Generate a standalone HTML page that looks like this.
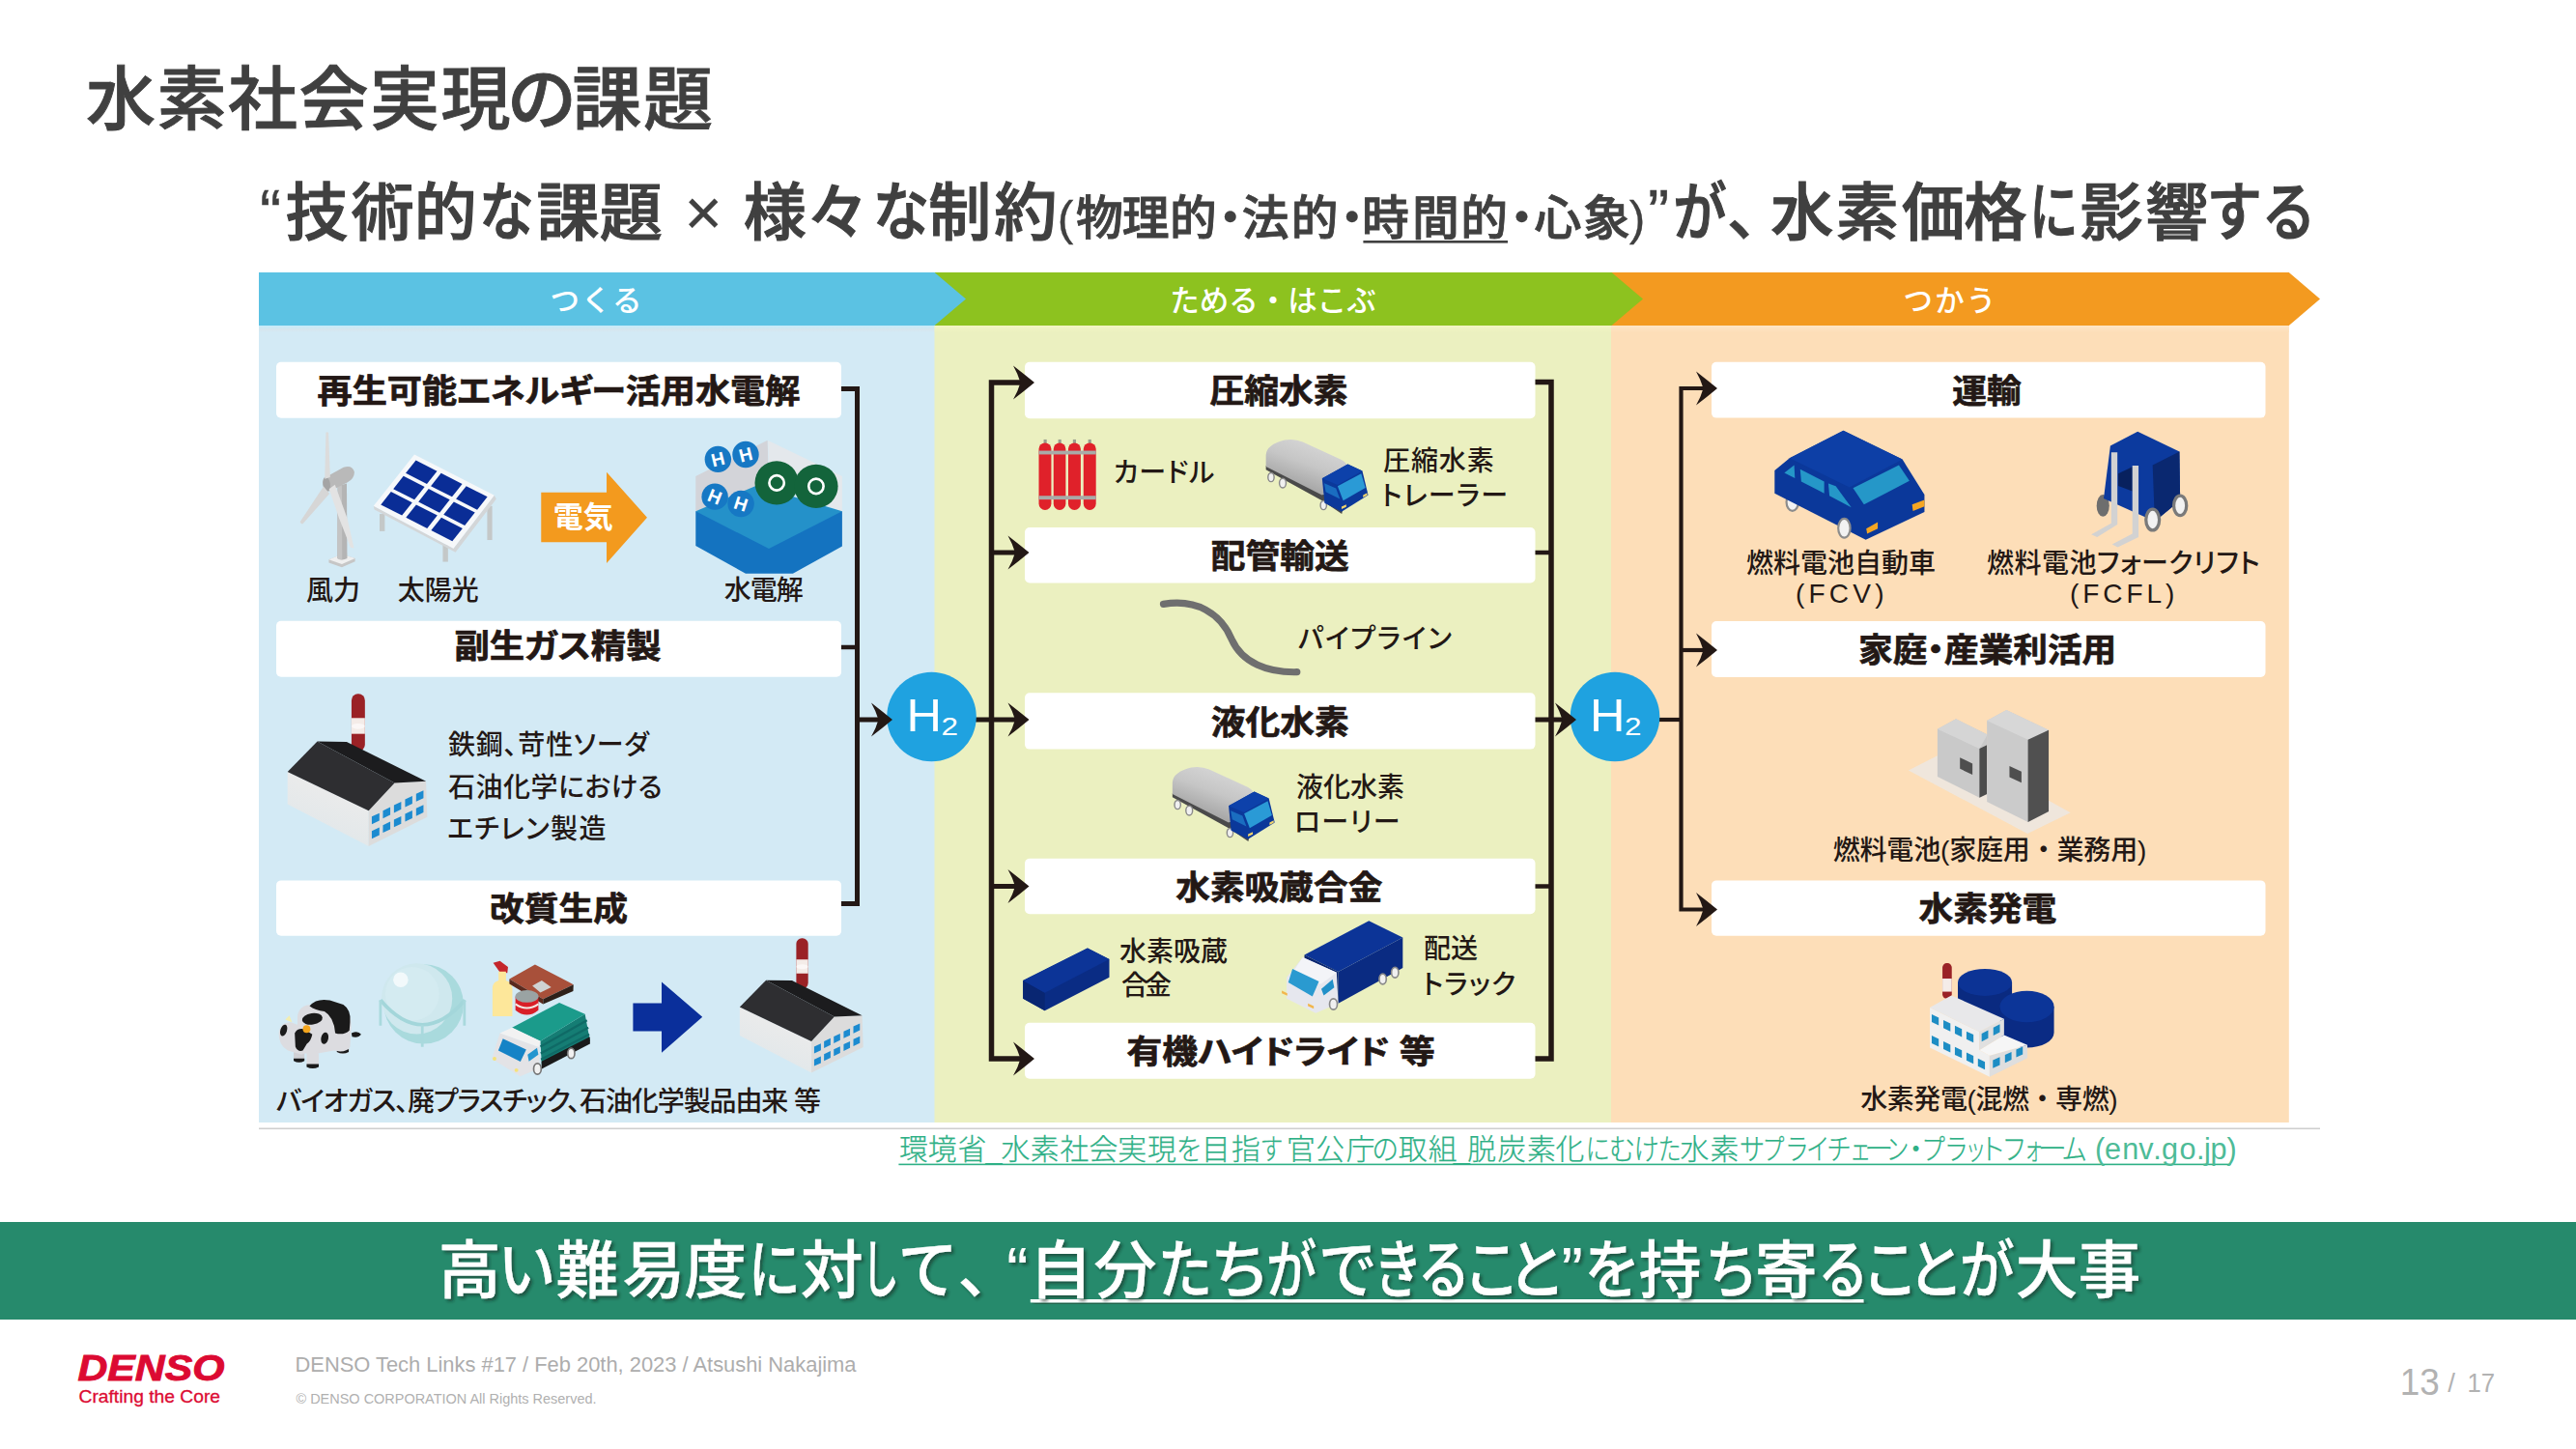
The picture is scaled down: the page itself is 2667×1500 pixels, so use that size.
<!DOCTYPE html>
<html lang="ja">
<head>
<meta charset="utf-8">
<title>水素社会実現の課題</title>
<style>
html,body{margin:0;padding:0;background:#fff;}
body{width:2667px;height:1500px;position:relative;overflow:hidden;font-family:"Liberation Sans","Noto Sans CJK JP",sans-serif;color:#404040;}
.abs{position:absolute;white-space:nowrap;line-height:1;}
#title{left:89px;top:67px;font-size:72px;font-weight:500;color:#404040;letter-spacing:1.5px;-webkit-text-stroke:0.9px #404040;}
#title .k{margin:0 -6px 0 -5px;}
svg text{font-family:"Liberation Sans","Noto Sans CJK JP",sans-serif;}
svg text.p{font-feature-settings:"palt";}
</style>
</head>
<body>
<div class="abs" id="title">水素社会実現<span class="k">の</span>課題</div>

<svg id="dg" width="2667" height="1500" viewBox="0 0 2667 1500" style="position:absolute;left:0;top:0">
<defs>
<linearGradient id="gb" x1="0" y1="0" x2="0" y2="1"><stop offset="0" stop-color="#c4ecfa"/><stop offset="0.6" stop-color="#d6e6ee"/><stop offset="1" stop-color="#d3eaf5"/></linearGradient>
<linearGradient id="gg" x1="0" y1="0" x2="0" y2="1"><stop offset="0" stop-color="#f3f6c4"/><stop offset="1" stop-color="#ebf0c0"/></linearGradient>
<linearGradient id="go" x1="0" y1="0" x2="0" y2="1"><stop offset="0" stop-color="#fee6c6"/><stop offset="1" stop-color="#fddeb8"/></linearGradient>
<linearGradient id="wallL" gradientUnits="userSpaceOnUse" x1="500" y1="880" x2="380" y2="1180"><stop offset="0" stop-color="#ebebeb"/><stop offset="1" stop-color="#e3e8ea"/></linearGradient>
<linearGradient id="tankg" gradientUnits="userSpaceOnUse" x1="2060" y1="150" x2="1960" y2="420"><stop offset="0" stop-color="#d2d2d2"/><stop offset="0.45" stop-color="#c6c6c6"/><stop offset="1" stop-color="#a8a8a8"/></linearGradient>
<filter id="sh" x="-5%" y="-20%" width="110%" height="150%"><feDropShadow dx="2.6" dy="2.6" stdDeviation="1.7" flood-color="#0a2a20" flood-opacity=".55"/></filter>
</defs>

<rect x="268" y="336" width="700" height="826" fill="#d3eaf5"/>
<rect x="967.5" y="336" width="701" height="826" fill="#ebf0c0"/>
<rect x="1668" y="336" width="701.8" height="826" fill="#fddeb8"/>
<rect x="268" y="337" width="699.5" height="7" fill="url(#gb)"/>
<rect x="967.5" y="337" width="701" height="7" fill="url(#gg)"/>
<rect x="1668" y="337" width="701.8" height="7" fill="url(#go)"/>
<path d="M1668 282H2369.8L2402 309.5L2369.8 337H1668Z" fill="#f39a20"/>
<path d="M967.5 282H1668.5L1701 309.5L1668.5 337H967.5Z" fill="#8dc21f"/>
<path d="M268 282H967.5L1000 309.5L967.5 337H268Z" fill="#5bc2e3"/>
<text x="618" y="321.8" font-size="30.5" font-weight="500" fill="#fff" text-anchor="middle" letter-spacing="2">つくる</text>
<text x="1318" y="321.8" font-size="30.5" font-weight="500" fill="#fff" text-anchor="middle" letter-spacing="0">ためる・はこぶ</text>
<text x="2019.5" y="321.8" font-size="30.5" font-weight="500" fill="#fff" text-anchor="middle" letter-spacing="2.2">つかう</text>
<rect x="286" y="374.7" width="585.0" height="58.0" rx="5" fill="#fff"/>
<text x="578.5" y="416.8" font-size="33.6" font-weight="700" fill="#231815" stroke="#231815" stroke-width="0.7" text-anchor="middle" class="p" textLength="499.8" lengthAdjust="spacingAndGlyphs">再生可能エネルギー活用水電解</text>
<rect x="286" y="642.8" width="585.0" height="58.0" rx="5" fill="#fff"/>
<text x="577.5" y="681.1" font-size="33.6" font-weight="700" fill="#231815" stroke="#231815" stroke-width="0.7" text-anchor="middle" class="p" textLength="214.2" lengthAdjust="spacingAndGlyphs">副生ガス精製</text>
<rect x="286" y="911.4" width="585.0" height="57.4" rx="5" fill="#fff"/>
<text x="578.5" y="953.2" font-size="33.6" font-weight="700" fill="#231815" stroke="#231815" stroke-width="0.7" text-anchor="middle" textLength="142.8" lengthAdjust="spacingAndGlyphs">改質生成</text>
<rect x="1061" y="374.8" width="528.5" height="58.4" rx="5" fill="#fff"/>
<text x="1324.0" y="417.1" font-size="33.6" font-weight="700" fill="#231815" stroke="#231815" stroke-width="0.7" text-anchor="middle" textLength="142.8" lengthAdjust="spacingAndGlyphs">圧縮水素</text>
<rect x="1061" y="546" width="528.5" height="57.5" rx="5" fill="#fff"/>
<text x="1325.2" y="587.9" font-size="33.6" font-weight="700" fill="#231815" stroke="#231815" stroke-width="0.7" text-anchor="middle" textLength="142.8" lengthAdjust="spacingAndGlyphs">配管輸送</text>
<rect x="1061" y="717.3" width="528.5" height="58.3" rx="5" fill="#fff"/>
<text x="1325.2" y="759.6" font-size="33.6" font-weight="700" fill="#231815" stroke="#231815" stroke-width="0.7" text-anchor="middle" textLength="142.8" lengthAdjust="spacingAndGlyphs">液化水素</text>
<rect x="1061" y="888.7" width="528.5" height="57.5" rx="5" fill="#fff"/>
<text x="1324.3" y="930.6" font-size="33.6" font-weight="700" fill="#231815" stroke="#231815" stroke-width="0.7" text-anchor="middle" textLength="214.2" lengthAdjust="spacingAndGlyphs">水素吸蔵合金</text>
<rect x="1061" y="1058.7" width="528.5" height="58.1" rx="5" fill="#fff"/>
<text x="1326.1" y="1100.8" font-size="33.6" font-weight="700" fill="#231815" stroke="#231815" stroke-width="0.7" text-anchor="middle" class="p" textLength="319.3" lengthAdjust="spacingAndGlyphs">有機ハイドライド 等</text>
<rect x="1772" y="374.8" width="573.5" height="57.8" rx="5" fill="#fff"/>
<text x="2057.0" y="416.8" font-size="33.6" font-weight="700" fill="#231815" stroke="#231815" stroke-width="0.7" text-anchor="middle" textLength="71.4" lengthAdjust="spacingAndGlyphs">運輸</text>
<rect x="1772" y="643" width="573.5" height="58.0" rx="5" fill="#fff"/>
<text x="2057.6" y="685.1" font-size="33.6" font-weight="700" fill="#231815" stroke="#231815" stroke-width="0.7" text-anchor="middle" class="p" textLength="267.1" lengthAdjust="spacingAndGlyphs">家庭・産業利活用</text>
<rect x="1772" y="911.4" width="573.5" height="57.4" rx="5" fill="#fff"/>
<text x="2057.9" y="953.2" font-size="33.6" font-weight="700" fill="#231815" stroke="#231815" stroke-width="0.7" text-anchor="middle" textLength="142.8" lengthAdjust="spacingAndGlyphs">水素発電</text>
<path d="M871 402.5 L887.5 402.5 L887.5 935.5 L871 935.5" fill="none" stroke="#231815" stroke-width="5" stroke-linejoin="miter"/>
<path d="M871 670 L887.5 670" fill="none" stroke="#231815" stroke-width="4.5" stroke-linejoin="miter"/>
<path d="M887.5 745 L912 745" fill="none" stroke="#231815" stroke-width="5" stroke-linejoin="miter"/>
<path d="M1009 745 L1053 745" fill="none" stroke="#231815" stroke-width="5" stroke-linejoin="miter"/>
<path d="M1060 396 L1026.5 396 L1026.5 1096 L1060 1096" fill="none" stroke="#231815" stroke-width="5.5" stroke-linejoin="miter"/>
<path d="M1026.5 572 L1053 572" fill="none" stroke="#231815" stroke-width="5" stroke-linejoin="miter"/>
<path d="M1026.5 917.5 L1053 917.5" fill="none" stroke="#231815" stroke-width="5" stroke-linejoin="miter"/>
<path d="M1589.5 395.5 L1606 395.5 L1606 1096 L1589.5 1096" fill="none" stroke="#231815" stroke-width="5.5" stroke-linejoin="miter"/>
<path d="M1589.5 572 L1606 572" fill="none" stroke="#231815" stroke-width="4.5" stroke-linejoin="miter"/>
<path d="M1589.5 917.5 L1606 917.5" fill="none" stroke="#231815" stroke-width="4.5" stroke-linejoin="miter"/>
<path d="M1589.5 745 L1620 745" fill="none" stroke="#231815" stroke-width="5" stroke-linejoin="miter"/>
<path d="M1717 745 L1740.5 745" fill="none" stroke="#231815" stroke-width="4.2" stroke-linejoin="miter"/>
<path d="M1768 402 L1740.5 402 L1740.5 941.5 L1768 941.5" fill="none" stroke="#231815" stroke-width="4.2" stroke-linejoin="miter"/>
<path d="M1740.5 673 L1768 673" fill="none" stroke="#231815" stroke-width="4.2" stroke-linejoin="miter"/>
<circle cx="964.5" cy="742" r="46.3" fill="#1fa2e0"/>
<text x="938.5" y="757" font-size="47.5" fill="#fff" textLength="36.5" lengthAdjust="spacingAndGlyphs">H</text>
<text x="974.5" y="761.3" font-size="26.5" fill="#fff" textLength="17.5" lengthAdjust="spacingAndGlyphs">2</text>
<circle cx="1672" cy="742" r="46.3" fill="#1fa2e0"/>
<text x="1646" y="757" font-size="47.5" fill="#fff" textLength="36.5" lengthAdjust="spacingAndGlyphs">H</text>
<text x="1682" y="761.3" font-size="26.5" fill="#fff" textLength="17.5" lengthAdjust="spacingAndGlyphs">2</text>
<path d="M924 745Q913.4 736.2 902 727.4Q907.0 736.2 909.5 745Q907.0 753.8 902 762.6Q913.4 753.8 924 745Z" fill="#231815"/>
<path d="M1071 396Q1060.4 387.2 1049 378.4Q1054.0 387.2 1056.5 396Q1054.0 404.8 1049 413.6Q1060.4 404.8 1071 396Z" fill="#231815"/>
<path d="M1071 1096Q1060.4 1087.2 1049 1078.4Q1054.0 1087.2 1056.5 1096Q1054.0 1104.8 1049 1113.6Q1060.4 1104.8 1071 1096Z" fill="#231815"/>
<path d="M1065.5 572Q1054.9 563.2 1043.5 554.4Q1048.5 563.2 1051.0 572Q1048.5 580.8 1043.5 589.6Q1054.9 580.8 1065.5 572Z" fill="#231815"/>
<path d="M1065.5 745Q1054.9 736.2 1043.5 727.4Q1048.5 736.2 1051.0 745Q1048.5 753.8 1043.5 762.6Q1054.9 753.8 1065.5 745Z" fill="#231815"/>
<path d="M1065.5 917.5Q1054.9 908.7 1043.5 899.9Q1048.5 908.7 1051.0 917.5Q1048.5 926.3 1043.5 935.1Q1054.9 926.3 1065.5 917.5Z" fill="#231815"/>
<path d="M1632 745Q1621.4 736.2 1610 727.4Q1615.0 736.2 1617.5 745Q1615.0 753.8 1610 762.6Q1621.4 753.8 1632 745Z" fill="#231815"/>
<path d="M1778 402Q1767.4 393.2 1756 384.4Q1761.0 393.2 1763.5 402Q1761.0 410.8 1756 419.6Q1767.4 410.8 1778 402Z" fill="#231815"/>
<path d="M1778 673Q1767.4 664.2 1756 655.4Q1761.0 664.2 1763.5 673Q1761.0 681.8 1756 690.6Q1767.4 681.8 1778 673Z" fill="#231815"/>
<path d="M1778 941.5Q1767.4 932.7 1756 923.9Q1761.0 932.7 1763.5 941.5Q1761.0 950.3 1756 959.1Q1767.4 950.3 1778 941.5Z" fill="#231815"/>
<text x="317.0" y="620.5" font-size="28.0" font-weight="500" fill="#231815">風力</text>
<text x="411.8" y="620.5" font-size="28.0" font-weight="500" fill="#231815">太陽光</text>
<text x="749.8" y="620.5" font-size="28.0" font-weight="500" fill="#231815" textLength="81.9" lengthAdjust="spacing">水電解</text>
<text x="464.0" y="781.3" font-size="28.0" font-weight="500" fill="#231815" class="p" textLength="207.8" lengthAdjust="spacing">鉄鋼、苛性ソーダ</text>
<text x="464.0" y="825.2" font-size="28.0" font-weight="500" fill="#231815" class="p" textLength="221.7" lengthAdjust="spacing">石油化学における</text>
<text x="463.0" y="868.3" font-size="28.0" font-weight="500" fill="#231815" class="p" textLength="164.4" lengthAdjust="spacing">エチレン製造</text>
<text x="285.9" y="1150.3" font-size="28.0" font-weight="500" fill="#231815" class="p" textLength="564.0" lengthAdjust="spacing">バイオガス、廃プラスチック、石油化学製品由来 等</text>
<text x="1152.6" y="499.0" font-size="28.0" font-weight="500" fill="#231815" class="p" textLength="104.7" lengthAdjust="spacing">カードル</text>
<text x="1432.0" y="486.8" font-size="28.0" font-weight="500" fill="#231815" textLength="114.7" lengthAdjust="spacing">圧縮水素</text>
<text x="1430.0" y="522.5" font-size="28.0" font-weight="500" fill="#231815" class="p" textLength="131.0" lengthAdjust="spacing">トレーラー</text>
<text x="1343.9" y="671.0" font-size="28.0" font-weight="500" fill="#231815" class="p" textLength="159.0" lengthAdjust="spacing">パイプライン</text>
<text x="1341.9" y="824.8" font-size="28.0" font-weight="500" fill="#231815">液化水素</text>
<text x="1339.8" y="861.4" font-size="28.0" font-weight="500" fill="#231815" class="p" textLength="109.7" lengthAdjust="spacing">ローリー</text>
<text x="1159.0" y="994.6" font-size="28.0" font-weight="500" fill="#231815">水素吸蔵</text>
<text x="1161.0" y="1030.4" font-size="28.0" font-weight="500" fill="#231815" textLength="52.0" lengthAdjust="spacing">合金</text>
<text x="1474.0" y="992.3" font-size="28.0" font-weight="500" fill="#231815">配送</text>
<text x="1472.6" y="1028.7" font-size="28.0" font-weight="500" fill="#231815" class="p" textLength="96.7" lengthAdjust="spacing">トラック</text>
<text x="1807.9" y="593.2" font-size="28.0" font-weight="500" fill="#231815">燃料電池自動車</text>
<text x="1859.0" y="623.5" font-size="28.0" font-weight="500" fill="#231815" textLength="91.5" lengthAdjust="spacing">(FCV)</text>
<text x="2057.0" y="593.2" font-size="28.0" font-weight="500" fill="#231815" class="p" textLength="282.7" lengthAdjust="spacing">燃料電池フォークリフト</text>
<text x="2143.0" y="623.5" font-size="28.0" font-weight="500" fill="#231815" textLength="108.4" lengthAdjust="spacing">(FCFL)</text>
<text x="1897.7" y="889.7" font-size="28.0" font-weight="500" fill="#231815" textLength="324.6" lengthAdjust="spacing">燃料電池(家庭用・業務用)</text>
<text x="1926.2" y="1147.6" font-size="28.0" font-weight="500" fill="#231815" textLength="266.4" lengthAdjust="spacing">水素発電(混燃・専燃)</text>
<!-- wind turbine + solar : zoom origin (290,430) scale 1/8.525 -->
<g transform="translate(290,430) scale(0.1173)">
  <g id="wind">
    <path d="M430 1272L545 1226L662 1262L662 1290L545 1340L430 1300Z" fill="#c6c6c6"/>
    <path d="M430 1272L545 1226L662 1262L545 1312Z" fill="#efefef"/>
    <path d="M508 625L588 600L592 1262Q548 1285 505 1262Z" fill="#b4b4b4"/>
    <path d="M508 625L545 612L548 1275Q520 1275 505 1262Z" fill="#c4c4c4"/>
    <path d="M398 548L560 458Q640 436 656 500Q655 560 592 592L445 668Q384 682 378 604Q376 566 398 548Z" fill="#b9b9b9"/>
    <ellipse cx="410" cy="607" rx="32" ry="64" fill="#a4a4a4" transform="rotate(-8 410 607)"/>
    <path d="M394 560L404 152Q415 140 427 152L442 545Z" fill="#dcdcdc"/>
    <path d="M384 626L436 690L200 958Q182 960 176 940Z" fill="#d6d6d6"/>
    <path d="M432 650L484 612L592 905L652 1172L622 1166L520 905Z" fill="#e3e3e3"/>
  </g>
  <g id="solar">
    <rect x="878" y="870" width="46" height="152" fill="#c4c8c8"/>
    <rect x="1828" y="800" width="44" height="300" fill="#c4c8c8"/>
    <rect x="1436" y="1140" width="46" height="152" fill="#c4c8c8"/>
    <path d="M825 800L1530 1175L1890 705L1908 738L1548 1208L832 832Z" fill="#d3d6d8"/>
    <path d="M1185 345L1890 705L1530 1175L825 800Z" fill="#f6f8fa"/>
    <g transform="matrix(705 360 -360 455 1185 345)" fill="#0a2d96">
      <rect x="0.055" y="0.07" width="0.265" height="0.25"/><rect x="0.37" y="0.07" width="0.265" height="0.25"/><rect x="0.685" y="0.07" width="0.265" height="0.25"/>
      <rect x="0.055" y="0.375" width="0.265" height="0.25"/><rect x="0.37" y="0.375" width="0.265" height="0.25"/><rect x="0.685" y="0.375" width="0.265" height="0.25"/>
      <rect x="0.055" y="0.68" width="0.265" height="0.25"/><rect x="0.37" y="0.68" width="0.265" height="0.25"/><rect x="0.685" y="0.68" width="0.265" height="0.25"/>
    </g>
  </g>
</g>
<!-- orange arrow + electrolysis : zoom origin (540,430) scale 1/7.1556 -->
<g transform="translate(540,430) scale(0.13975)">
  <path d="M145 570H630V420L930 757L630 1095V940H145Z" fill="#f39a1e"/>
  <text x="457" y="833" font-size="222" font-weight="700" fill="#fff" text-anchor="middle">電気</text>
  <g id="elec">
    <path d="M1290 450L1822 185L1832 500L1290 712Z" fill="#d3d4d9"/>
    <path d="M1826 186L2375 450L2375 712L1832 500Z" fill="#e4e8ec"/>
    <path d="M1290 710L2375 710L2375 970L2010 1172L1660 1172L1290 966Z" fill="#1473c0"/>
    <path d="M1290 710L1740 520L2375 710L1832 988Z" fill="#2491c9"/>
    <circle cx="1455" cy="325" r="98" fill="#1678c4"/><circle cx="1660" cy="290" r="98" fill="#1678c4"/>
    <circle cx="1432" cy="602" r="98" fill="#1678c4"/><circle cx="1625" cy="655" r="98" fill="#1678c4"/>
    <g font-size="136" font-weight="700" fill="#fff" text-anchor="middle">
      <text x="1455" y="373" transform="rotate(-14 1455 325)">H</text>
      <text x="1660" y="338" transform="rotate(-14 1660 290)">H</text>
      <text x="1432" y="650" transform="rotate(22 1432 602)">H</text>
      <text x="1625" y="703" transform="rotate(18 1625 655)">H</text>
    </g>
    <circle cx="1890" cy="500" r="162" fill="#13643b"/><circle cx="2182" cy="525" r="162" fill="#13643b"/>
    <circle cx="1890" cy="500" r="55" fill="none" stroke="#fff" stroke-width="19"/>
    <circle cx="2182" cy="525" r="55" fill="none" stroke="#fff" stroke-width="19"/>
  </g>
</g>
<!-- factory symbol in zoom coords (origin 280,700 scale 1/7.625) -->
<g id="factory1" transform="translate(280,700) scale(0.13115)">
  <g id="fac">
    <rect x="640" y="140" width="106" height="450" rx="50" fill="#9a2226"/>
    <rect x="640" y="330" width="106" height="125" fill="#f4ece8"/>
    <ellipse cx="693" cy="395" rx="53" ry="22" fill="#fff" opacity=".6"/>
    <path d="M135 755L775 1060L775 1342L135 1010Z" fill="url(#wallL)"/>
    <path d="M775 1060L980 838L1228 830L1238 1112L775 1342Z" fill="#dcdcdc"/>
    <path d="M370 515L602 518L1228 830L980 842Z" fill="#1c1c1e"/>
    <path d="M135 755L370 515L980 842L775 1062Z" fill="#2e2e31"/>
    <g fill="#1c8bd0">
      <path d="M800 1108L860 1080V1140L800 1168Z"/><path d="M888 1062L946 1034V1094L888 1122Z"/><path d="M975 1018L1032 992V1050L975 1078Z"/><path d="M1063 972L1120 946V1006L1063 1034Z"/><path d="M1150 928L1208 902V962L1150 990Z"/>
      <path d="M800 1222L860 1194V1254L800 1282Z"/><path d="M888 1176L946 1148V1208L888 1236Z"/><path d="M975 1132L1032 1106V1164L975 1192Z"/><path d="M1063 1086L1120 1060V1120L1063 1148Z"/><path d="M1150 1042L1208 1016V1076L1150 1104Z"/>
    </g>
  </g>
</g>
<use href="#fac" transform="translate(750.2,955) scale(0.11593)"/>
<!-- cow, gas holder, trash, garbage truck: zoom origin (280,980) scale 1/7.1556 -->
<g transform="translate(280,980) scale(0.13975)">
  <g id="cow">
    <path d="M600 640Q650 620 672 650Q650 680 605 668Z" fill="#1a1a1a"/>
    <rect x="490" y="680" width="92" height="110" rx="30" fill="#d6d6da"/><path d="M492 760h88v20q-44 22 -88 0z" fill="#1a1a1a"/>
    <rect x="172" y="740" width="80" height="115" rx="30" fill="#d0d0d4"/><path d="M172 828h80v18q-40 22 -80 0z" fill="#1a1a1a"/>
    <path d="M200 520Q210 420 330 430L520 440Q600 470 598 600L590 740Q560 790 470 770L300 800Q210 790 200 700Z" fill="#dcdce0"/>
    <path d="M290 440Q340 380 440 398L540 430Q600 470 590 560L585 620Q540 660 480 640Q470 520 400 480Q330 470 290 440Z" fill="#1a1a1a"/>
    <rect x="268" y="770" width="90" height="130" rx="32" fill="#dcdce0"/><path d="M268 870h90v20q-45 24 -90 0z" fill="#1a1a1a"/>
    <path d="M62 640Q70 560 150 560L260 600Q320 640 310 720Q300 790 230 800L130 770Q60 730 62 640Z" fill="#dcdce0"/>
    <ellipse cx="310" cy="535" rx="76" ry="42" fill="#1a1a1a" transform="rotate(-8 310 535)"/>
    <path d="M180 640Q200 600 250 610L310 650Q300 700 270 720L240 770Q200 780 185 740Z" fill="#1a1a1a"/>
    <ellipse cx="402" cy="678" rx="27" ry="44" fill="#1a1a1a" transform="rotate(12 402 678)"/>
    <ellipse cx="98" cy="620" rx="24" ry="44" fill="#1a1a1a" transform="rotate(18 98 620)"/>
    <circle cx="268" cy="610" r="28" fill="#f4a51c"/>
    <path d="M110 540l30 -30l20 50z" fill="#f3eeb0"/>
  </g>
  <g id="holder">
    <circle cx="1135" cy="425" r="295" fill="#a9dadd"/>
    <circle cx="1085" cy="385" r="262" fill="#cfe8ee"/>
    <circle cx="1050" cy="350" r="200" fill="#d5ebf1" opacity=".8"/>
    <circle cx="965" cy="245" r="55" fill="#f2f9fb"/>
    <path d="M815 395Q1125 760 1440 395" fill="none" stroke="#a3d6da" stroke-width="26"/>
    <path d="M815 395V585M1125 580V742M1437 395V585" stroke="#a9d9dd" stroke-width="20" fill="none"/>
  </g>
  <g id="trash">
    <path d="M1650 120L1700 105L1760 150L1755 195L1700 190Z" fill="#c4262b"/>
    <path d="M1690 185H1745V250Q1795 265 1792 320V515H1645V320Q1640 265 1690 250Z" fill="#fde79a"/>
    <path d="M1770 240L1960 132L2245 280L2020 388Z" fill="#a8503a"/>
    <path d="M1770 240L2020 388L2020 425L1770 275Z" fill="#5a2a1e"/>
    <path d="M2020 388L2245 280L2243 330L2020 425Z" fill="#2e2019"/>
    <path d="M1940 290L2010 250L2080 300L2000 340Z" fill="#cfd3d3"/>
    <path d="M1815 370V470Q1900 540 1985 470V370Z" fill="#d91f28"/>
    <path d="M1815 425Q1900 485 1985 425" fill="none" stroke="#f3e9e4" stroke-width="14"/>
    <ellipse cx="1900" cy="368" rx="86" ry="46" fill="#9aa3a3"/>
  </g>
  <g id="gtruck">
    <path d="M2000 700L2330 500L2368 700L2010 885Z" fill="#157d74"/>
    <path d="M2000 740L2345 545M2002 790L2355 600M2004 835L2362 650" stroke="#0f6a66" stroke-width="16" fill="none"/>
    <path d="M2008 850L2366 668L2368 720L2010 905Z" fill="#1a1a1a"/>
    <path d="M1790 600L2140 415L2330 500L2000 700Z" fill="#1b9b8b"/>
    <path d="M1640 830L1700 640L1990 745L1995 900L1850 960Z" fill="#e3e3e6"/>
    <path d="M1700 640L1790 600L2000 700L1990 745Z" fill="#f2f2f2"/>
    <path d="M1688 770L1722 682L1895 762L1852 852Z" fill="#1583c6"/>
    <path d="M1905 800L1975 750L1985 800L1915 850Z" fill="#2395cf"/>
    <ellipse cx="1978" cy="905" rx="28" ry="40" fill="#f1f1f1" stroke="#777" stroke-width="12"/>
    <ellipse cx="2228" cy="790" rx="26" ry="38" fill="#f1f1f1" stroke="#777" stroke-width="12"/>
    <circle cx="1660" cy="830" r="14" fill="#f5e27a"/><circle cx="1822" cy="915" r="14" fill="#f5e27a"/>
  </g>
</g>
<!-- blue arrow -->
<path d="M655.4 1038.6H685V1016.4L727.2 1052.8L685 1089.8V1067.6H655.4Z" fill="#0a2f9b"/>
<!-- cylinders + tanker: zoom origin (1060,440) scale 1/6.962 -->
<g transform="translate(1060,440) scale(0.14364)">
  <g id="cyl">
    <g fill="#9a9f8f"><rect x="143" y="104" width="22" height="30"/><rect x="248" y="104" width="22" height="30"/><rect x="354" y="104" width="22" height="30"/><rect x="464" y="104" width="22" height="30"/></g>
    <g fill="#e0212a"><rect x="108" y="128" width="90" height="484" rx="45"/><rect x="214" y="128" width="88" height="484" rx="44"/><rect x="320" y="128" width="90" height="484" rx="45"/><rect x="430" y="128" width="90" height="484" rx="45"/></g>
    <rect x="108" y="185" width="412" height="27" fill="#a9aaa8"/><rect x="108" y="510" width="412" height="27" fill="#a9aaa8"/>
  </g>
  <g id="tanker">
    <path d="M1745 292L2150 492L2300 600L2292 640L2150 545L1745 322Z" fill="#4a4a4a"/>
    <ellipse cx="1782" cy="376" rx="22" ry="32" fill="#f0f0f0" stroke="#8a8a8a" stroke-width="10"/>
    <ellipse cx="1866" cy="418" rx="24" ry="34" fill="#f0f0f0" stroke="#8a8a8a" stroke-width="10"/>
    <ellipse cx="2160" cy="578" rx="22" ry="32" fill="#f0f0f0" stroke="#8a8a8a" stroke-width="10"/>
    <path d="M1745 215Q1750 140 1880 108Q1950 95 2010 122L2290 250Q2345 280 2335 330L2335 410L2150 505L1745 300Z" fill="url(#tankg)"/>
    <path d="M2150 385L2335 282L2440 330L2482 505L2290 625L2168 562Z" fill="#0b389a"/>
    <path d="M2150 385L2335 282L2440 330L2262 432Z" fill="#0d41aa"/>
    <path d="M2262 440L2432 350L2462 452L2302 545Z" fill="#2a9ad6"/>
    <path d="M2165 420L2250 456L2278 532L2176 482Z" fill="#1a6dc0"/>
    <path d="M2445 505l30 -16v18l-30 16zM2290 588l34 -16v18l-34 16z" fill="#f3d36a"/>
  </g>
</g>
<use href="#tanker" transform="translate(963.2,779) scale(0.14364)"/>
<!-- pipeline -->
<path d="M1204.5 625.4C1238.7 619.6 1263.9 634.9 1275 661.5C1286.2 686.6 1312.8 696.4 1342.8 695.7" fill="none" stroke="#6f6f6f" stroke-width="7.2" stroke-linecap="round"/>
<!-- alloy box + delivery truck: zoom origin (1050,940) scale 1/5.9907 -->
<g transform="translate(1050,940) scale(0.16693)">
  <path d="M55 450L455 248L590 318L590 430L190 636L55 562Z" fill="#0a2c84"/>
  <path d="M55 450L190 525L190 636L55 562Z" fill="#092672"/>
  <path d="M55 450L455 248L590 318L190 525Z" fill="#0c3497"/>
  <g id="dtruck">
    <path d="M2010 395L2410 182L2410 372L2010 592Z" fill="#0a2b82"/>
    <path d="M1800 290L2200 80L2410 182L2010 395Z" fill="#0c3497"/>
    <path d="M1800 290L2010 395L2010 592L1800 480Z" fill="#092672"/>
    <path d="M1690 430L1790 305L2000 400L2010 592L1870 652L1690 562Z" fill="#e6e7ee"/>
    <path d="M1790 305L2000 400L1905 470L1700 440Z" fill="#f3f4f8"/>
    <path d="M1700 462L1726 378L1890 456L1850 548Z" fill="#2a9ad0"/>
    <path d="M1905 502L1975 442L1985 492L1920 542Z" fill="#2190c8"/>
    <ellipse cx="1980" cy="596" rx="24" ry="34" fill="#f0f0f0" stroke="#8a8a8a" stroke-width="10"/>
    <ellipse cx="2286" cy="440" rx="22" ry="32" fill="#f0f0f0" stroke="#8a8a8a" stroke-width="10"/>
    <ellipse cx="2362" cy="400" rx="22" ry="32" fill="#f0f0f0" stroke="#8a8a8a" stroke-width="10"/>
    <path d="M1660 512l34 16v16l-34 -16zM1822 592l36 16v16l-36 -16z" fill="#f2b64c"/>
  </g>
</g>
<!-- car + forklift: zoom origin (1820,430) scale 1/5.4809 -->
<g transform="translate(1820,430) scale(0.18245)">
  <g id="car">
    <ellipse cx="196" cy="492" rx="34" ry="50" fill="#f2f2f2" stroke="#8c8c8c" stroke-width="12"/>
    <path d="M95 312L180 242L485 86L820 250L945 450L945 548L612 706L95 442Z" fill="#0b389a"/>
    <path d="M180 242L485 86L820 250L520 408Z" fill="#0d3fa6"/>
    <path d="M540 412L800 282L860 372L602 506Z" fill="#2597c8"/>
    <path d="M150 326L206 282L210 356Z" fill="#2597c8"/>
    <path d="M240 306L376 376L376 442L246 376Z" fill="#2597c8"/>
    <path d="M400 386L442 402L530 522L406 456Z" fill="#2597c8"/>
    <ellipse cx="490" cy="640" rx="34" ry="54" fill="#f2f2f2" stroke="#8c8c8c" stroke-width="12"/>
    <path d="M875 506L945 480L945 516L880 542Z" fill="#f5a623"/>
    <path d="M615 642L680 606L680 642L620 672Z" fill="#f5a623"/>
  </g>
  <g id="fork">
    <ellipse cx="1958" cy="512" rx="36" ry="62" fill="#6e6e6e"/>
    <path d="M2000 172L2155 92L2392 206L2396 482L2252 602L1962 472Z" fill="#0c3a9e"/>
    <path d="M2240 282L2392 206L2396 482L2252 602Z" fill="#0a2870"/>
    <path d="M2045 330L2125 292L2125 430L2045 400Z" fill="#08215e"/>
    <path d="M2005 210H2040V620L1925 690L1892 676L2005 612Z" fill="#d2d2d2"/>
    <path d="M2125 285H2160V690L2042 748L2010 732L2125 672Z" fill="#d2d2d2"/>
    <ellipse cx="2240" cy="592" rx="38" ry="60" fill="#f2f2f2" stroke="#7a7a7a" stroke-width="18"/>
    <ellipse cx="2396" cy="512" rx="36" ry="56" fill="#f2f2f2" stroke="#7a7a7a" stroke-width="18"/>
  </g>
</g>
<!-- fuel cell: zoom origin (1950,720) scale 1/9.659 -->
<g transform="translate(1950,720) scale(0.10353)">
  <path d="M250 748L700 520L1870 1170L1440 1382Z" fill="#ece7e2" opacity=".85"/>
  <path d="M540 335L725 235L1040 392L1035 985L960 1022L540 812Z" fill="#c9c9c9"/>
  <path d="M540 335L725 235L1040 392L960 532Z" fill="#d5d5d5"/>
  <path d="M960 532L1035 495L1035 985L960 1022Z" fill="#4c4c4c"/>
  <path d="M765 620L890 680L890 792L765 732Z" fill="#4e4e4e"/>
  <path d="M1035 250L1230 146L1652 346L1652 1160L1445 1266L1035 1062Z" fill="#cbcbcb"/>
  <path d="M1035 250L1230 146L1652 346L1445 442Z" fill="#d7d7d7"/>
  <path d="M1445 442L1652 346L1652 1160L1445 1266Z" fill="#505050"/>
  <path d="M1260 705L1380 760L1380 872L1260 816Z" fill="#4e4e4e"/>
</g>
<!-- power plant: zoom origin (1970,985) scale 1/10.347 -->
<g transform="translate(1970,985) scale(0.096646)">
  <path d="M590 330V620A290 145 0 0 0 1170 620V330Z" fill="#0a2a80"/>
  <ellipse cx="880" cy="330" rx="290" ry="145" fill="#0c3395"/>
  <path d="M1040 590V870A290 160 0 0 0 1620 870V590Z" fill="#0a2b84"/>
  <ellipse cx="1330" cy="590" rx="290" ry="168" fill="#0c3598"/>
  <rect x="425" y="125" width="100" height="380" rx="46" fill="#9a2226"/>
  <rect x="425" y="290" width="100" height="140" fill="#f4ece8"/>
  <path d="M290 600L820 860L820 1056L930 1114L930 1342L290 1030Z" fill="#f0f0f0"/>
  <path d="M930 1114L1335 1000L1335 1142L930 1342Z" fill="#dedede"/>
  <path d="M820 1056L1085 895L1335 1000L930 1114Z" fill="#f6f6f6"/>
  <path d="M820 860L1085 722L1085 895L820 1056Z" fill="#e0e0e0"/>
  <path d="M290 600L520 470L1085 722L820 860Z" fill="#e8e8ea"/>
  <g fill="#1d8dc4">
    <path d="M310 672l75 36v84l-75 -36z"/><path d="M435 735l75 36v84l-75 -36z"/><path d="M558 795l75 36v84l-75 -36z"/><path d="M682 855l75 36v84l-75 -36z"/>
    <path d="M310 900l75 36v84l-75 -36z"/><path d="M435 962l75 36v84l-75 -36z"/><path d="M558 1022l75 36v84l-75 -36z"/><path d="M682 1082l75 36v84l-75 -36z"/><path d="M805 1145l75 36v84l-75 -36z"/>
    <path d="M845 880l70 -36v84l-70 36z"/><path d="M970 815l70 -36v84l-70 36z"/>
    <path d="M965 1165l75 -34v84l-75 34z"/><path d="M1095 1108l70 -32v84l-70 32z"/><path d="M1215 1050l70 -32v84l-70 32z"/>
  </g>
</g>

<rect x="0" y="1265" width="2667" height="101" fill="#268a6c"/>
<rect x="1066.8" y="1345" width="862.7" height="3.4" fill="#fff" filter="url(#sh)"/><text y="1337.8" font-weight="500" fill="#fff" stroke="#fff" filter="url(#sh)"><tspan font-size="65.0" stroke-width="0.35" x="453.7">高</tspan><tspan font-size="65.7" stroke-width="0.35" x="515.4" textLength="59.8" lengthAdjust="spacingAndGlyphs">い</tspan><tspan font-size="65.0" stroke-width="0.35" x="575.5 644.3 708.2">難易度</tspan><tspan font-size="65.7" stroke-width="0.35" x="774.7" textLength="54.1" lengthAdjust="spacingAndGlyphs">に</tspan><tspan font-size="65.0" stroke-width="0.35" x="828.7">対</tspan><tspan font-size="65.7" stroke-width="0.35" x="892.7" textLength="37.7" lengthAdjust="spacingAndGlyphs">し</tspan><tspan font-size="65.7" stroke-width="0.35" x="929.6" textLength="62.2" lengthAdjust="spacingAndGlyphs">て</tspan><tspan font-size="66.7" stroke-width="0.1" x="991.2 1042.2">、“</tspan><tspan font-size="65.0" stroke-width="0.35" x="1065.7 1132.5">自分</tspan><tspan font-size="65.7" stroke-width="0.35" x="1198.4" textLength="56.7" lengthAdjust="spacingAndGlyphs">た</tspan><tspan font-size="65.7" stroke-width="0.35" x="1252.8" textLength="62.5" lengthAdjust="spacingAndGlyphs">ち</tspan><tspan font-size="65.7" stroke-width="0.35" x="1310.9" textLength="52.2" lengthAdjust="spacingAndGlyphs">が</tspan><tspan font-size="65.7" stroke-width="0.35" x="1365.0" textLength="60.8" lengthAdjust="spacingAndGlyphs">で</tspan><tspan font-size="65.7" stroke-width="0.35" x="1421.9" textLength="50.7" lengthAdjust="spacingAndGlyphs">き</tspan><tspan font-size="65.7" stroke-width="0.35" x="1467.8" textLength="54.5" lengthAdjust="spacingAndGlyphs">る</tspan><tspan font-size="65.7" stroke-width="0.35" x="1514.9" textLength="59.1" lengthAdjust="spacingAndGlyphs">こ</tspan><tspan font-size="65.7" stroke-width="0.35" x="1560.4" textLength="60.8" lengthAdjust="spacingAndGlyphs">と</tspan><tspan font-size="66.7" stroke-width="0.1" x="1616.5">”</tspan><tspan font-size="65.7" stroke-width="0.35" x="1640.2" textLength="57.9" lengthAdjust="spacingAndGlyphs">を</tspan><tspan font-size="65.0" stroke-width="0.35" x="1696.6">持</tspan><tspan font-size="65.7" stroke-width="0.35" x="1765.2" textLength="55.3" lengthAdjust="spacingAndGlyphs">ち</tspan><tspan font-size="65.0" stroke-width="0.35" x="1816.7">寄</tspan><tspan font-size="65.7" stroke-width="0.35" x="1882.3" textLength="52.2" lengthAdjust="spacingAndGlyphs">る</tspan><tspan font-size="65.7" stroke-width="0.35" x="1927.4" textLength="59.0" lengthAdjust="spacingAndGlyphs">こ</tspan><tspan font-size="65.7" stroke-width="0.35" x="1975.0" textLength="58.0" lengthAdjust="spacingAndGlyphs">と</tspan><tspan font-size="65.7" stroke-width="0.35" x="2028.8" textLength="57.0" lengthAdjust="spacingAndGlyphs">が</tspan><tspan font-size="65.0" stroke-width="0.35" x="2086.4 2151.5">大事</tspan></text>
<rect x="1411.4" y="249" width="149.6" height="2.6" fill="#404040"/><text y="243.4" font-weight="500" fill="#404040" stroke="#404040"><tspan font-size="66.7" stroke-width="0.36" x="268.9">“</tspan><tspan font-size="65.0" stroke-width="1.2" x="295.6 363.7 428.8">技術的</tspan><tspan font-size="65.7" stroke-width="1.2" x="495.9" textLength="56.9" lengthAdjust="spacingAndGlyphs">な</tspan><tspan font-size="65.0" stroke-width="1.2" x="555.6 620.8">課題</tspan><tspan font-size="66.7" stroke-width="0.36" x="708.8">×</tspan><tspan font-size="65.0" stroke-width="1.2" x="769.7 834.9">様々</tspan><tspan font-size="65.7" stroke-width="1.2" x="903.7" textLength="58.5" lengthAdjust="spacingAndGlyphs">な</tspan><tspan font-size="65.0" stroke-width="1.2" x="961.3 1029.6">制約</tspan><tspan font-size="50.0" stroke-width="0.27" x="1094.8">(</tspan><tspan font-size="48.8" stroke-width="0.9" x="1114.1 1161.7 1210.9">物理的</tspan><tspan font-size="50.0" stroke-width="0.27" x="1248.8">・</tspan><tspan font-size="48.8" stroke-width="0.9" x="1285.7 1336.7">法的</tspan><tspan font-size="50.0" stroke-width="0.27" x="1374.7">・</tspan><tspan font-size="48.8" stroke-width="0.9" x="1410.0 1461.9 1512.2">時間的</tspan><tspan font-size="50.0" stroke-width="0.27" x="1550.6">・</tspan><tspan font-size="48.8" stroke-width="0.9" x="1588.5 1639.0">心象</tspan><tspan font-size="50.0" stroke-width="0.27" x="1686.8">)</tspan><tspan font-size="66.7" stroke-width="0.36" x="1706.0">”</tspan><tspan font-size="65.7" stroke-width="1.2" x="1732.2" textLength="55.5" lengthAdjust="spacingAndGlyphs">が</tspan><tspan font-size="66.7" stroke-width="0.36" x="1787.6">、</tspan><tspan font-size="65.0" stroke-width="1.2" x="1833.3 1900.8 1968.9 2033.6">水素価格</tspan><tspan font-size="65.7" stroke-width="1.2" x="2101.1" textLength="50.6" lengthAdjust="spacingAndGlyphs">に</tspan><tspan font-size="65.0" stroke-width="1.2" x="2153.5 2221.2">影響</tspan><tspan font-size="65.7" stroke-width="1.2" x="2284.5" textLength="57.5" lengthAdjust="spacingAndGlyphs">す</tspan><tspan font-size="65.7" stroke-width="1.2" x="2341.4" textLength="56.2" lengthAdjust="spacingAndGlyphs">る</tspan></text>
<rect x="930.4" y="1204.6" width="1379.1" height="1.6" fill="#2eb086"/><text y="1200.3" font-weight="300" fill="#2eb086" stroke="#2eb086"><tspan font-size="29.8" stroke-width="0.25" x="930.9 960.7 991.4">環境省</tspan><tspan font-size="30.6" stroke-width="0.07" x="1020.6">_</tspan><tspan font-size="29.8" stroke-width="0.25" x="1036.4 1066.8 1097.4 1127.6 1157.2 1188.1">水素社会実現</tspan><tspan font-size="30.1" stroke-width="0.25" x="1217.7" textLength="27.3" lengthAdjust="spacingAndGlyphs">を</tspan><tspan font-size="29.8" stroke-width="0.25" x="1244.1 1275.0">目指</tspan><tspan font-size="30.1" stroke-width="0.25" x="1304.7" textLength="23.6" lengthAdjust="spacingAndGlyphs">す</tspan><tspan font-size="29.8" stroke-width="0.25" x="1332.0 1362.3 1393.8">官公庁</tspan><tspan font-size="30.1" stroke-width="0.25" x="1420.3" textLength="27.9" lengthAdjust="spacingAndGlyphs">の</tspan><tspan font-size="29.8" stroke-width="0.25" x="1447.8 1478.7">取組</tspan><tspan font-size="30.6" stroke-width="0.07" x="1504.8">_</tspan><tspan font-size="29.8" stroke-width="0.25" x="1519.2 1550.3 1581.0 1610.4">脱炭素化</tspan><tspan font-size="30.1" stroke-width="0.25" x="1641.4" textLength="25.5" lengthAdjust="spacingAndGlyphs">に</tspan><tspan font-size="30.1" stroke-width="0.25" x="1665.7" textLength="27.5" lengthAdjust="spacingAndGlyphs">む</tspan><tspan font-size="30.1" stroke-width="0.25" x="1691.6" textLength="26.2" lengthAdjust="spacingAndGlyphs">け</tspan><tspan font-size="30.1" stroke-width="0.25" x="1716.4" textLength="24.1" lengthAdjust="spacingAndGlyphs">た</tspan><tspan font-size="29.8" stroke-width="0.25" x="1739.5 1770.5">水素</tspan><tspan font-size="30.1" stroke-width="0.25" x="1800.8" textLength="26.4" lengthAdjust="spacingAndGlyphs">サ</tspan><tspan font-size="30.1" stroke-width="0.25" x="1824.6" textLength="22.9" lengthAdjust="spacingAndGlyphs">プ</tspan><tspan font-size="30.1" stroke-width="0.25" x="1848.0" textLength="24.9" lengthAdjust="spacingAndGlyphs">ラ</tspan><tspan font-size="30.1" stroke-width="0.25" x="1870.1" textLength="24.3" lengthAdjust="spacingAndGlyphs">イ</tspan><tspan font-size="30.1" stroke-width="0.25" x="1891.2" textLength="25.5" lengthAdjust="spacingAndGlyphs">チ</tspan><tspan font-size="30.1" stroke-width="0.25" x="1915.0" textLength="22.3" lengthAdjust="spacingAndGlyphs">ェ</tspan><tspan font-size="30.6" stroke-width="0.07" x="1929.9">ー</tspan><tspan font-size="30.1" stroke-width="0.25" x="1952.8" textLength="23.6" lengthAdjust="spacingAndGlyphs">ン</tspan><tspan font-size="30.6" stroke-width="0.07" x="1968.3">・</tspan><tspan font-size="30.1" stroke-width="0.25" x="1989.3" textLength="24.6" lengthAdjust="spacingAndGlyphs">プ</tspan><tspan font-size="30.1" stroke-width="0.25" x="2012.9" textLength="24.9" lengthAdjust="spacingAndGlyphs">ラ</tspan><tspan font-size="30.1" stroke-width="0.25" x="2034.6" textLength="21.9" lengthAdjust="spacingAndGlyphs">ッ</tspan><tspan font-size="30.1" stroke-width="0.25" x="2048.9" textLength="27.8" lengthAdjust="spacingAndGlyphs">ト</tspan><tspan font-size="30.1" stroke-width="0.25" x="2072.6" textLength="26.0" lengthAdjust="spacingAndGlyphs">フ</tspan><tspan font-size="30.1" stroke-width="0.25" x="2095.2" textLength="20.6" lengthAdjust="spacingAndGlyphs">ォ</tspan><tspan font-size="30.6" stroke-width="0.07" x="2109.4">ー</tspan><tspan font-size="30.1" stroke-width="0.25" x="2134.5" textLength="26.4" lengthAdjust="spacingAndGlyphs">ム</tspan><tspan> </tspan><tspan font-size="30.6" stroke-width="0" fill="#4dbb97" x="2169.0 2179.0 2197.2 2214.2 2229.3 2238.0 2256.6 2274.0 2282.0 2288.4 2305.6">(env.go.jp)</tspan></text>
<text x="80.5" y="1428.8" font-size="37.8" font-weight="700" font-style="italic" fill="#dc0a32" stroke="#dc0a32" stroke-width="0.9" textLength="152" lengthAdjust="spacingAndGlyphs">DENSO</text>
<text x="81.5" y="1452.3" font-size="18.2" fill="#dc0a32" stroke="#dc0a32" stroke-width="0.3" textLength="146.5" lengthAdjust="spacingAndGlyphs">Crafting the Core</text>
<text x="305.5" y="1419.8" font-size="21.6" fill="#adadad" textLength="581" lengthAdjust="spacingAndGlyphs">DENSO Tech Links #17 / Feb 20th, 2023 / Atsushi Nakajima</text>
<text x="306.5" y="1453" font-size="14.6" fill="#b0b0b0" textLength="311" lengthAdjust="spacingAndGlyphs">© DENSO CORPORATION All Rights Reserved.</text>
<text y="1443.7" font-size="39.4" fill="#b2b2b2"><tspan x="2484.8" textLength="41" lengthAdjust="spacingAndGlyphs">13</tspan><tspan font-size="27.5" x="2526.5" y="1440.6"> / </tspan><tspan font-size="27.5" x="2554.5" y="1440.6" textLength="28.6" lengthAdjust="spacingAndGlyphs">17</tspan></text>
<rect x="268" y="1167.5" width="2134" height="1.6" fill="#cfcfcf"/>
</svg>

</body>
</html>
